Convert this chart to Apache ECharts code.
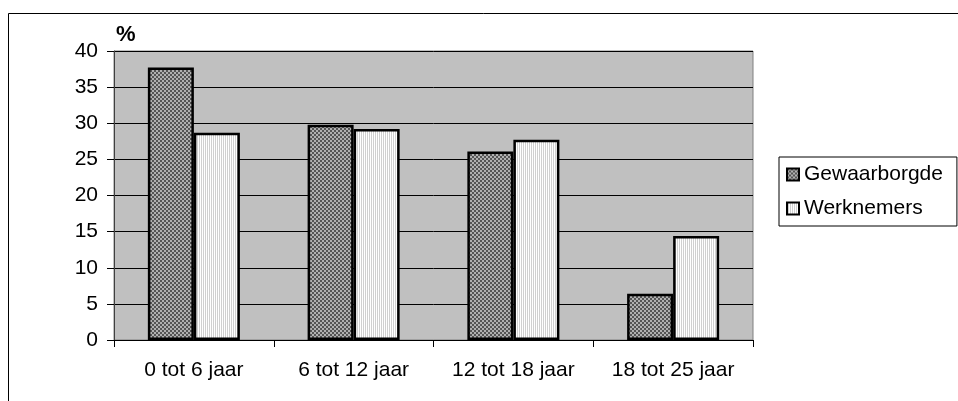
<!DOCTYPE html>
<html>
<head>
<meta charset="utf-8">
<script src="https://cdn.jsdelivr.net/npm/echarts@6/dist/echarts.min.js"></script>
<style>
html,body{margin:0;padding:0;background:#fff;}
#c{width:958px;height:401px;}
</style>
</head>
<body>
<div id="c"></div>
<script>
var categories = ['0 tot 6 jaar', '6 tot 12 jaar', '12 tot 18 jaar', '18 tot 25 jaar'];
var gewaarborgde = [37.7, 29.8, 26.1, 6.4];
var werknemers = [28.7, 29.2, 27.7, 14.4];
var seriesNames = ['Gewaarborgde', 'Werknemers'];
var yMin = 0, yMax = 40, yStep = 5;

function makePattern(kind) {
  var cv = document.createElement('canvas');
  var ctx = cv.getContext('2d');
  if (kind === 'check') {
    cv.width = 4; cv.height = 4;
    ctx.fillStyle = '#b0b0b0'; ctx.fillRect(0, 0, 4, 4);
    ctx.fillStyle = '#555555';
    ctx.fillRect(0, 0, 2, 2); ctx.fillRect(2, 2, 2, 2);
  } else {
    cv.width = 2; cv.height = 2;
    ctx.fillStyle = '#ffffff'; ctx.fillRect(0, 0, 2, 2);
    ctx.fillStyle = '#d0d0d0'; ctx.fillRect(1, 0, 1, 2);
  }
  return cv;
}

var FONT = 'Liberation Sans, Arial, sans-serif';
var chart = echarts.init(document.getElementById('c'), null, {renderer: 'canvas'});
chart.setOption({
  animation: false,
  backgroundColor: '#ffffff',
  textStyle: {fontFamily: FONT, color: '#000'},
  graphic: [{
    type: 'rect',
    shape: {x: 8.5, y: 13.5, width: 1200, height: 600},
    style: {fill: 'none', stroke: '#000', lineWidth: 1},
    silent: true,
    z: -1
  }],
  grid: {
    left: 114, top: 51, right: 205, bottom: 61,
    show: true, backgroundColor: '#c0c0c0', borderColor: '#808080', borderWidth: 1
  },
  legend: {
    orient: 'vertical',
    left: 779, top: 157,
    padding: [7, 14, 7, 7],
    itemGap: 13,
    itemWidth: 12, itemHeight: 12,
    icon: 'rect',
    borderColor: '#000', borderWidth: 1,
    backgroundColor: '#fff',
    textStyle: {fontFamily: FONT, fontSize: 21, color: '#000', padding: [0, 0, 0, 0]},
    data: seriesNames,
    selectedMode: false
  },
  xAxis: {
    type: 'category',
    data: categories,
    axisLine: {show: true, lineStyle: {color: '#000', width: 1}},
    axisTick: {show: true, length: 7, lineStyle: {color: '#000'}},
    axisLabel: {fontFamily: FONT, fontSize: 21, color: '#000', margin: 20},
    splitLine: {show: false}
  },
  yAxis: {
    type: 'value',
    min: yMin, max: yMax, interval: yStep,
    name: '%',
    nameLocation: 'end',
    nameGap: 5,
    nameTextStyle: {fontFamily: FONT, fontSize: 22, fontWeight: 'bold', color: '#000', align: 'left', padding: [0, 0, 0, 2]},
    axisLine: {show: true, lineStyle: {color: '#404040', width: 1}},
    axisTick: {show: true, length: 7, lineStyle: {color: '#000'}},
    axisLabel: {fontFamily: FONT, fontSize: 21, color: '#000', margin: 16},
    splitLine: {show: true, lineStyle: {color: '#000', width: 1}}
  },
  series: [{
    name: seriesNames[0],
    type: 'bar',
    data: gewaarborgde,
    barWidth: '28.8%',
    barGap: '0%',
    itemStyle: {color: {image: makePattern('check'), repeat: 'repeat'}, borderColor: '#000', borderWidth: 2.5}
  }, {
    name: seriesNames[1],
    type: 'bar',
    data: werknemers,
    barWidth: '28.8%',
    barGap: '0%',
    itemStyle: {color: {image: makePattern('stripe'), repeat: 'repeat'}, borderColor: '#000', borderWidth: 2.5}
  }]
});
</script>
</body>
</html>
